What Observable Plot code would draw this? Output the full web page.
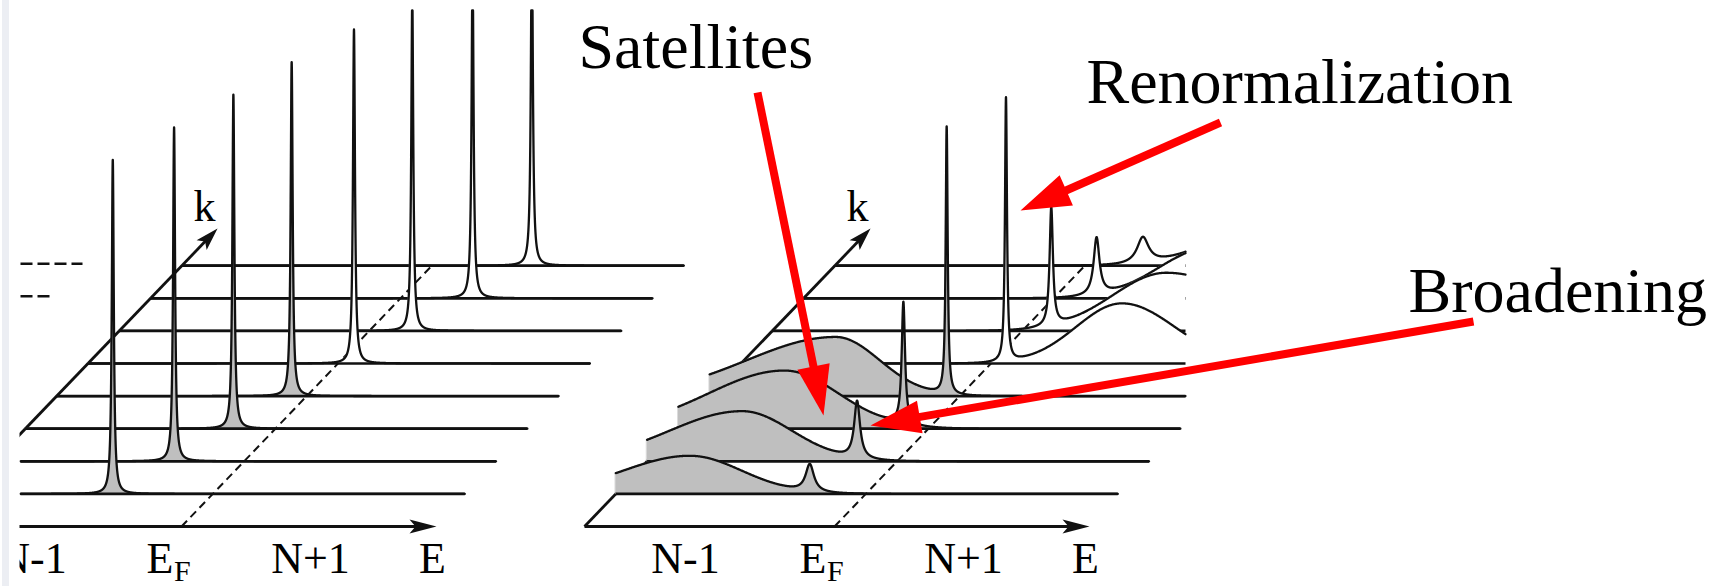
<!DOCTYPE html>
<html><head><meta charset="utf-8">
<script src="https://cdn.jsdelivr.net/npm/d3@7"></script>
<script src="https://cdn.jsdelivr.net/npm/@observablehq/plot@0.6"></script>
<style>
html,body{margin:0;padding:0;background:#fff;}
#chart{width:1717px;height:586px;overflow:hidden;}
</style></head><body><div id="chart"></div>
<script>
// ---------------- data ----------------
// momentum rows k = 0 (front) ... 7 (back)
const kRows = [0, 1, 2, 3, 4, 5, 6, 7];
// non-interacting panel: sharp quasiparticle peaks (energy relative to E_F)
const bareEnergy = [-100, -70, -42, -15, 16, 43, 72, 100];
const bareWeight = [1, 1, 1, 1, 1, 1, 1, 1];
const bareWidth  = [1.2, 1.2, 1.2, 1.2, 1.2, 1.2, 1.2, 1.2];
// interacting panel: renormalized quasiparticle peaks
const qpEnergy = [-56, -40, -25, -13, 15, 29, 43, 58];
const qpWeight = [0.082, 0.171, 0.365, 0.80, 0.79, 0.353, 0.171, 0.078];
const qpWidth  = [5, 3.5, 2, 1.2, 1.2, 2, 3.5, 7];
// interacting panel: incoherent satellites
const satEnergy    = [-176, -155, -144, -124, 131, 144, 155, 176];
const satWeight    = [0.114, 0.150, 0.174, 0.177, 0.180, 0.174, 0.150, 0.114];
const satWidthLow  = [67, 73, 76, 89, 46, 54, 50, 52];
const satWidthHigh = [52, 50, 54, 44, 53, 76, 73, 67];
// energy-axis ticks
const tickEnergy = [-149, -8, 129, 251];
const tickLabel  = ["N-1", "E", "N+1", "E"];
const tickSub    = ["", "F", "", ""];
// annotations
const annotationText = ["Satellites", "Renormalization", "Broadening"];

// ---------------- layout (oblique projection of the E-k plane) ----------------
const W = 1717, H = 586;
const AXIS_Y = 526, ROW_DY = 32.6, SHEAR = 0.96, HSCALE = 334;
const E_START = -250, E_END = 252, E_TIP = 255, K_TIP = 8.14;
const INK = "#111111", GRAY = "#bfbfbf", RED = "#ff0000";
const SERIF = "Liberation Serif, Times New Roman, serif";

const rowY = k => AXIS_Y - ROW_DY * (k + 1);

const bareA = (k, E) => {
  const g = bareWidth[k];
  return bareWeight[k] * g * g / ((E - bareEnergy[k]) ** 2 + g * g);
};
const dressedA = (k, E) => {
  const g = qpWidth[k];
  const d = E - satEnergy[k];
  const s = d < 0 ? satWidthLow[k] : satWidthHigh[k];
  return qpWeight[k] * g * g / ((E - qpEnergy[k]) ** 2 + g * g) +
         satWeight[k] * Math.exp(-d * d / (2 * s * s));
};

const panels = [
  {x0: 181, clipL: 20, clipR: W, clipT: 10, A: bareA, center: k => bareEnergy[k]},
  {x0: 834, clipL: 0, clipR: 1185, clipT: 0, A: dressedA, center: k => qpEnergy[k]}
];
const shiftX = (p, k) => p.x0 + (AXIS_Y - rowY(k)) * SHEAR;

function buildRow(p, k) {
  const sh = shiftX(p, k);
  const e0 = Math.max(E_START, p.clipL - sh), e1 = Math.min(E_END, p.clipR - sh);
  const set = new Set();
  for (let e = Math.ceil(e0); e <= e1; e += 0.5) set.add(+e.toFixed(2));
  const c = p.center(k);
  for (let d = -25; d <= 25; d += 0.05) {
    const e = +(c + d).toFixed(2);
    if (e >= e0 && e <= e1) set.add(e);
  }
  set.add(e0); set.add(e1);
  if (e0 < 0 && e1 > 0) set.add(0);
  const yb = rowY(k);
  return [...set].sort((a, b) => a - b).map(E => ({
    E, x: sh + E, yb, y: Math.max(p.clipT, yb - HSCALE * p.A(k, E))
  }));
}

function headPoly(tip, dir, L, hw, notch) {
  const [tx, ty] = tip, [ux, uy] = dir, px = -uy, py = ux;
  return [
    {x: tx, y: ty},
    {x: tx - L * ux + hw * px, y: ty - L * uy + hw * py},
    {x: tx - (L - notch) * ux, y: ty - (L - notch) * uy},
    {x: tx - L * ux - hw * px, y: ty - L * uy - hw * py},
    {x: tx, y: ty}
  ];
}

const marks = [];
const link = (x1, y1, x2, y2, o) => Plot.link([{x1, y1, x2, y2}], {x1: "x1", y1: "y1", x2: "x2", y2: "y2", ...o});

// remnants of a neighbouring panel at the far left
marks.push(link(20, rowY(7) - 2, 82, rowY(7) - 2, {stroke: INK, strokeWidth: 2.4, strokeDasharray: "12,5"}));
marks.push(link(20, rowY(6) - 2, 52, rowY(6) - 2, {stroke: INK, strokeWidth: 2.4, strokeDasharray: "12,5"}));

for (const p of panels) {
  // energy axis with arrow
  const ax0 = shiftX(p, -1) + E_START, axTip = shiftX(p, -1) + E_TIP;
  marks.push(link(ax0, AXIS_Y, axTip - 18, AXIS_Y, {stroke: INK, strokeWidth: 2.8}));
  marks.push(Plot.line(headPoly([axTip, AXIS_Y], [1, 0], 27, 7, 6), {x: "x", y: "y", fill: INK, stroke: "none"}));
  // k axis with arrow
  const kx0 = shiftX(p, -1) + E_START, kxT = shiftX(p, K_TIP) + E_START, kyT = rowY(K_TIP);
  const len = Math.hypot(kxT - kx0, kyT - AXIS_Y);
  const u = [(kxT - kx0) / len, (kyT - AXIS_Y) / len];
  marks.push(link(kx0, AXIS_Y, kxT - 16 * u[0], kyT - 16 * u[1], {stroke: INK, strokeWidth: 2.8}));
  marks.push(Plot.line(headPoly([kxT, kyT], u, 23, 7, 5), {x: "x", y: "y", fill: INK, stroke: "none"}));
  marks.push(Plot.text([{x: kxT - 13, y: kyT - 8, t: "k"}], {x: "x", y: "y", text: "t", fontFamily: SERIF, fontSize: 44, textAnchor: "middle", lineAnchor: "bottom", fill: "#000"}));
  // Fermi level (dashed)
  marks.push(link(shiftX(p, -1), AXIS_Y, shiftX(p, 7), rowY(7), {stroke: INK, strokeWidth: 2, strokeDasharray: "8,5"}));
  // spectra, back to front (hidden-line occlusion)
  for (const k of [...kRows].reverse()) {
    const pts = buildRow(p, k);
    const occ = pts.filter(d => d.E <= 0), emp = pts.filter(d => d.E >= 0);
    if (occ.length > 1) marks.push(Plot.area(occ, {x1: "x", y1: "yb", y2: "y", fill: GRAY, stroke: GRAY, strokeWidth: 0.5}));
    if (emp.length > 1) marks.push(Plot.area(emp, {x1: "x", y1: "yb", y2: "y", fill: "white", stroke: "white", strokeWidth: 0.5}));
    marks.push(link(pts[0].x, rowY(k), pts[pts.length - 1].x, rowY(k), {stroke: INK, strokeWidth: 2.7}));
    marks.push(Plot.line(pts, {x: "x", y: "y", stroke: INK, strokeWidth: 2.3, strokeLinejoin: "round"}));
  }
  // energy tick labels
  tickEnergy.forEach((e, i) => {
    const x = shiftX(p, -1) + e;
    if (tickSub[i]) {
      marks.push(Plot.text([{x, y: 572, t: tickLabel[i]}], {x: "x", y: "y", text: "t", fontFamily: SERIF, fontSize: 44, textAnchor: "end", lineAnchor: "bottom", fill: "#000"}));
      marks.push(Plot.text([{x: x + 0.5, y: 580, t: tickSub[i]}], {x: "x", y: "y", text: "t", fontFamily: SERIF, fontSize: 30, textAnchor: "start", lineAnchor: "bottom", fill: "#000"}));
    } else {
      marks.push(Plot.text([{x, y: 572, t: tickLabel[i]}], {x: "x", y: "y", text: "t", fontFamily: SERIF, fontSize: 44, textAnchor: "middle", lineAnchor: "bottom", fill: "#000"}));
    }
  });
}

// left crop edge of the original figure
marks.push(Plot.rect([{x1: 0, x2: 19.5, y1: 0, y2: H}], {x1: "x1", x2: "x2", y1: "y1", y2: "y2", fill: "white"}));
marks.push(Plot.rect([{x1: 2, x2: 9, y1: 0, y2: H}], {x1: "x1", x2: "x2", y1: "y1", y2: "y2", fill: "#eceef3"}));

// red annotation arrows and labels
const annTail = [[757, 92], [1220, 122], [1473, 321]];
const annTip  = [[823, 415], [1020, 210], [870, 425]];
const annPos  = [[578, 67], [1086, 102], [1408, 311]];
annotationText.forEach((t, i) => {
  const [x0, y0] = annTail[i], [x1, y1] = annTip[i];
  const L = Math.hypot(x1 - x0, y1 - y0), u = [(x1 - x0) / L, (y1 - y0) / L];
  marks.push(link(x0, y0, x1 - 46 * u[0], y1 - 46 * u[1], {stroke: RED, strokeWidth: 8, strokeLinecap: "butt"}));
  marks.push(Plot.line(headPoly([x1, y1], u, 50, 16.5, 0), {x: "x", y: "y", fill: RED, stroke: "none"}));
  marks.push(Plot.text([{x: annPos[i][0], y: annPos[i][1], t}], {x: "x", y: "y", text: "t", fontFamily: SERIF, fontSize: 64, textAnchor: "start", lineAnchor: "bottom", fill: "#000"}));
});

const chart = Plot.plot({
  width: W, height: H, margin: 0,
  x: {domain: [0, W], range: [0, W], axis: null},
  y: {domain: [0, H], range: [0, H], axis: null},
  style: {background: "white", overflow: "hidden"},
  marks
});
document.getElementById("chart").appendChild(chart);
</script>
</body></html>
